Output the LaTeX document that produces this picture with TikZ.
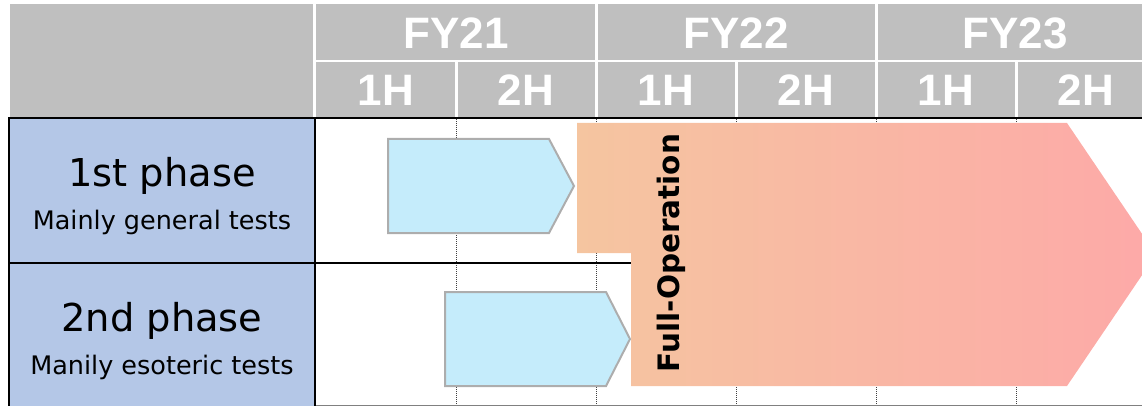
\documentclass[tikz,border=0pt]{standalone}
\usepackage{fontspec}
\newfontfamily\bodyfont{DejaVu Sans}
\newfontfamily\hdrfont{Liberation Sans}
\definecolor{hdrgray}{HTML}{BFBFBF}
\definecolor{phaseblue}{HTML}{B4C7E7}
\definecolor{arrowblue}{HTML}{C5ECFB}
\definecolor{arrowedge}{HTML}{ADADAD}
\definecolor{opleft}{HTML}{F5C5A0}
\definecolor{opright}{HTML}{FDA9A8}
\definecolor{dotgray}{HTML}{404040}
\tikzset{
  hdr/.style={text=white, inner sep=0pt, font=\hdrfont\bfseries\fontsize{44}{46}\selectfont},
  bigtxt/.style={anchor=base, inner sep=0pt, font=\bodyfont\fontsize{38.4}{40}\selectfont},
  smalltxt/.style={anchor=base, inner sep=0pt, font=\bodyfont\fontsize{25.5}{27}\selectfont},
  hgap/.style={white, line width=3pt},
  gridline/.style={dotgray, line width=1pt, dash pattern=on 1pt off 1pt},
  phasearrow/.style={fill=arrowblue, draw=arrowedge, line width=2pt, line join=miter},
}
\begin{document}
\begin{tikzpicture}[x=1pt,y=-1pt]
\useasboundingbox (0,0) rectangle (1142,406);
% header
\fill[hdrgray] (10,4) rectangle (1142,117);
\draw[hgap] (314.5,4) -- (314.5,117);
\draw[white, line width=2.5pt] (316,61) -- (1142,61);
\foreach \x in {596,876} \draw[hgap] (\x,4) -- (\x,117);
\foreach \x in {456,736,1016} \draw[hgap] (\x,61) -- (\x,117);
\node[hdr] (fy21) at (456,33) {FY21};
\node[hdr] (fy22) at (736,33) {FY22};
\node[hdr] (fy23) at (1015,33) {FY23};
\node[hdr] (h1a) at (386,90) {1H};
\node[hdr] (h2a) at (526,90) {2H};
\node[hdr] (h1b) at (666,90) {1H};
\node[hdr] (h2b) at (806,90) {2H};
\node[hdr] (h1c) at (946,90) {1H};
\node[hdr] (h2c) at (1086,90) {2H};
% grid
\foreach \x in {456,596,736,876,1016} \draw[gridline] (\x,119) -- (\x,405);
\draw[line width=1.5pt] (9,263) -- (1142,263);
\draw[gray, line width=1pt] (315,405.5) -- (1142,405.5);
\draw[line width=2pt] (9,118) -- (1142,118);
\draw[fill=phaseblue, line width=2pt] (9,118) rectangle (315,407);
\draw[line width=1.5pt] (9,263) -- (315,263);
% phase labels
\node[bigtxt] (p1) at (162,186) {1st phase};
\node[smalltxt] (p1s) at (162,229) {Mainly general tests};
\node[bigtxt] (p2) at (162,331) {2nd phase};
\node[smalltxt] (p2s) at (162,374) {Manily esoteric tests};
% phase arrows
\draw[phasearrow] (388,139) -- (549,139) -- (574,186) -- (549,233) -- (388,233) -- cycle;
\draw[phasearrow] (445,292) -- (606,292) -- (630,339) -- (606,386) -- (445,386) -- cycle;
% full operation
\shade[left color=opleft, right color=opright]
  (577,123) -- (1067,123) -- (1156,254.5) -- (1067,386) -- (631,386) -- (631,253) -- (577,253) -- cycle;
\node[rotate=90, anchor=base, inner sep=0pt, font=\bodyfont\bfseries\fontsize{29.5}{30}\selectfont] (fullop) at (679,253) {Full-Operation};
\end{tikzpicture}
\end{document}
